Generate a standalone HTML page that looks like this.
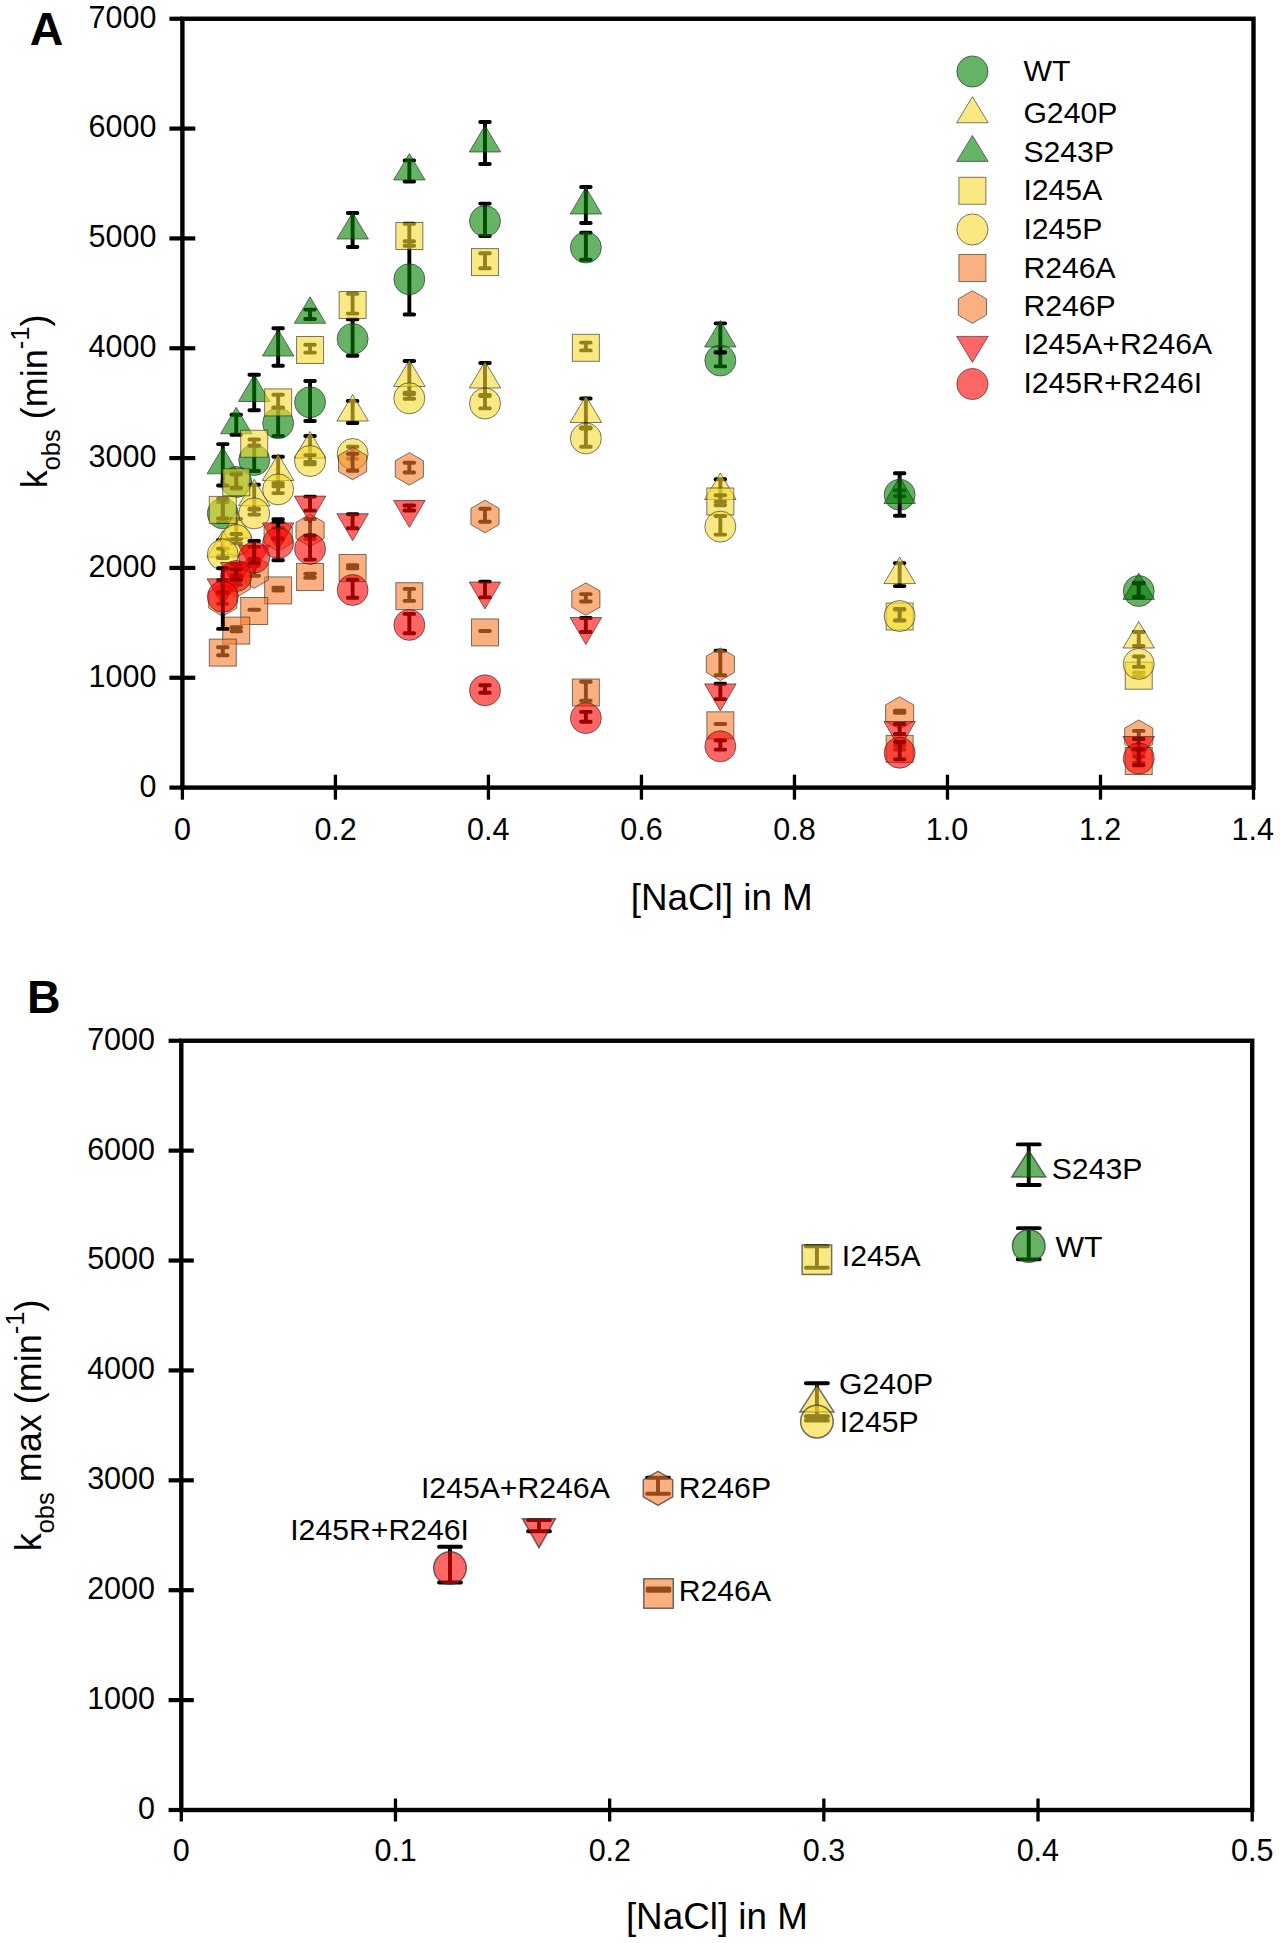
<!DOCTYPE html>
<html><head><meta charset="utf-8"><style>
html,body{margin:0;padding:0;background:#fff;}
svg{display:block;}
text{font-family:"Liberation Sans", sans-serif;}
</style></head><body>
<svg width="1280" height="1943" viewBox="0 0 1280 1943">
<rect width="1280" height="1943" fill="#fff"/>
<g font-family="Liberation Sans, sans-serif" fill="#000">
<text x="29.74" y="44.90" font-size="46.5" font-weight="bold">A</text>
<text x="26.89" y="1012.50" font-size="46.5" font-weight="bold">B</text>
<rect x="182.4" y="18.75" width="1071.10" height="768.85" fill="none" stroke="#000" stroke-width="4.4"/>
<line x1="169.40" y1="787.60" x2="182.40" y2="787.60" stroke="#000" stroke-width="4.2"/>
<text x="139.43" y="796.50" font-size="30.5">0</text>
<line x1="169.40" y1="677.76" x2="195.30" y2="677.76" stroke="#000" stroke-width="4.2"/>
<text x="88.54" y="686.66" font-size="30.5">1000</text>
<line x1="169.40" y1="567.93" x2="195.30" y2="567.93" stroke="#000" stroke-width="4.2"/>
<text x="88.54" y="576.83" font-size="30.5">2000</text>
<line x1="169.40" y1="458.09" x2="195.30" y2="458.09" stroke="#000" stroke-width="4.2"/>
<text x="88.54" y="466.99" font-size="30.5">3000</text>
<line x1="169.40" y1="348.26" x2="195.30" y2="348.26" stroke="#000" stroke-width="4.2"/>
<text x="88.54" y="357.16" font-size="30.5">4000</text>
<line x1="169.40" y1="238.42" x2="195.30" y2="238.42" stroke="#000" stroke-width="4.2"/>
<text x="88.54" y="247.32" font-size="30.5">5000</text>
<line x1="169.40" y1="128.59" x2="195.30" y2="128.59" stroke="#000" stroke-width="4.2"/>
<text x="88.54" y="137.49" font-size="30.5">6000</text>
<line x1="169.40" y1="18.75" x2="182.40" y2="18.75" stroke="#000" stroke-width="4.2"/>
<text x="88.54" y="27.65" font-size="30.5">7000</text>
<line x1="182.40" y1="787.60" x2="182.40" y2="799.70" stroke="#000" stroke-width="3.3"/>
<text x="173.92" y="839.60" font-size="30.5">0</text>
<line x1="335.41" y1="774.70" x2="335.41" y2="799.70" stroke="#000" stroke-width="3.3"/>
<text x="314.39" y="839.60" font-size="30.5">0.2</text>
<line x1="488.43" y1="774.70" x2="488.43" y2="799.70" stroke="#000" stroke-width="3.3"/>
<text x="467.08" y="839.60" font-size="30.5">0.4</text>
<line x1="641.44" y1="774.70" x2="641.44" y2="799.70" stroke="#000" stroke-width="3.3"/>
<text x="620.32" y="839.60" font-size="30.5">0.6</text>
<line x1="794.46" y1="774.70" x2="794.46" y2="799.70" stroke="#000" stroke-width="3.3"/>
<text x="773.32" y="839.60" font-size="30.5">0.8</text>
<line x1="947.47" y1="774.70" x2="947.47" y2="799.70" stroke="#000" stroke-width="3.3"/>
<text x="925.71" y="839.60" font-size="30.5">1.0</text>
<line x1="1100.49" y1="774.70" x2="1100.49" y2="799.70" stroke="#000" stroke-width="3.3"/>
<text x="1078.89" y="839.60" font-size="30.5">1.2</text>
<line x1="1253.50" y1="787.60" x2="1253.50" y2="799.70" stroke="#000" stroke-width="3.3"/>
<text x="1231.59" y="839.60" font-size="30.5">1.4</text>
<rect x="181.3" y="1040.75" width="1070.90" height="769.25" fill="none" stroke="#000" stroke-width="4.4"/>
<line x1="168.60" y1="1810.00" x2="181.30" y2="1810.00" stroke="#000" stroke-width="4.2"/>
<text x="138.03" y="1818.90" font-size="30.5">0</text>
<line x1="168.60" y1="1700.11" x2="193.80" y2="1700.11" stroke="#000" stroke-width="4.2"/>
<text x="87.14" y="1709.01" font-size="30.5">1000</text>
<line x1="168.60" y1="1590.21" x2="193.80" y2="1590.21" stroke="#000" stroke-width="4.2"/>
<text x="87.14" y="1599.11" font-size="30.5">2000</text>
<line x1="168.60" y1="1480.32" x2="193.80" y2="1480.32" stroke="#000" stroke-width="4.2"/>
<text x="87.14" y="1489.22" font-size="30.5">3000</text>
<line x1="168.60" y1="1370.43" x2="193.80" y2="1370.43" stroke="#000" stroke-width="4.2"/>
<text x="87.14" y="1379.33" font-size="30.5">4000</text>
<line x1="168.60" y1="1260.54" x2="193.80" y2="1260.54" stroke="#000" stroke-width="4.2"/>
<text x="87.14" y="1269.44" font-size="30.5">5000</text>
<line x1="168.60" y1="1150.64" x2="193.80" y2="1150.64" stroke="#000" stroke-width="4.2"/>
<text x="87.14" y="1159.54" font-size="30.5">6000</text>
<line x1="168.60" y1="1040.75" x2="181.30" y2="1040.75" stroke="#000" stroke-width="4.2"/>
<text x="87.14" y="1049.65" font-size="30.5">7000</text>
<line x1="181.30" y1="1810.00" x2="181.30" y2="1821.50" stroke="#000" stroke-width="3.3"/>
<text x="172.82" y="1861.00" font-size="30.5">0</text>
<line x1="395.48" y1="1798.50" x2="395.48" y2="1821.50" stroke="#000" stroke-width="3.3"/>
<text x="374.43" y="1861.00" font-size="30.5">0.1</text>
<line x1="609.66" y1="1798.50" x2="609.66" y2="1821.50" stroke="#000" stroke-width="3.3"/>
<text x="588.63" y="1861.00" font-size="30.5">0.2</text>
<line x1="823.84" y1="1798.50" x2="823.84" y2="1821.50" stroke="#000" stroke-width="3.3"/>
<text x="802.71" y="1861.00" font-size="30.5">0.3</text>
<line x1="1038.02" y1="1798.50" x2="1038.02" y2="1821.50" stroke="#000" stroke-width="3.3"/>
<text x="1016.67" y="1861.00" font-size="30.5">0.4</text>
<line x1="1252.20" y1="1810.00" x2="1252.20" y2="1821.50" stroke="#000" stroke-width="3.3"/>
<text x="1231.05" y="1861.00" font-size="30.5">0.5</text>
<text x="630.78" y="909.70" font-size="36.8">[NaCl] in M</text>
<text x="625.88" y="1929.40" font-size="36.8">[NaCl] in M</text>
<text transform="rotate(-90)" x="-488.33" y="46.80" font-size="36">k<tspan font-size="25.5" dy="13.1">obs</tspan><tspan dy="-13.1" xml:space="preserve"> (min</tspan><tspan font-size="25.5" dy="-18.3">-1</tspan><tspan dy="18.3">)</tspan></text>
<text transform="rotate(-90)" x="-1551.33" y="41.40" font-size="36">k<tspan font-size="25.5" dy="12.3">obs</tspan><tspan dy="-12.3" xml:space="preserve"> max (min</tspan><tspan font-size="25.5" dy="-17.6">-1</tspan><tspan dy="17.6">)</tspan></text>
</g>
<g>
<path d="M1138.74 582.70V596.70M1133.94 582.70H1143.54M1133.94 596.70H1143.54" stroke="#000" stroke-width="3.9" stroke-linecap="round" fill="none"/>
<path d="M899.65 490.40V496.20M894.85 490.40H904.45M894.85 496.20H904.45" stroke="#000" stroke-width="3.9" stroke-linecap="round" fill="none"/>
<path d="M720.34 352.00V366.40M715.54 352.00H725.14M715.54 366.40H725.14" stroke="#000" stroke-width="3.9" stroke-linecap="round" fill="none"/>
<path d="M585.86 232.70V259.70M581.06 232.70H590.66M581.06 259.70H590.66" stroke="#000" stroke-width="3.9" stroke-linecap="round" fill="none"/>
<path d="M484.99 203.60V236.00M480.19 203.60H489.79M480.19 236.00H489.79" stroke="#000" stroke-width="3.9" stroke-linecap="round" fill="none"/>
<path d="M409.34 241.30V314.50M404.54 241.30H414.14M404.54 314.50H414.14" stroke="#000" stroke-width="3.9" stroke-linecap="round" fill="none"/>
<path d="M352.61 319.40V355.80M347.81 319.40H357.41M347.81 355.80H357.41" stroke="#000" stroke-width="3.9" stroke-linecap="round" fill="none"/>
<path d="M310.06 381.00V421.00M305.26 381.00H314.86M305.26 421.00H314.86" stroke="#000" stroke-width="3.9" stroke-linecap="round" fill="none"/>
<path d="M278.14 407.90V435.90M273.34 407.90H282.94M273.34 435.90H282.94" stroke="#000" stroke-width="3.9" stroke-linecap="round" fill="none"/>
<path d="M254.21 446.00V471.00M249.41 446.00H259.01M249.41 471.00H259.01" stroke="#000" stroke-width="3.9" stroke-linecap="round" fill="none"/>
<path d="M236.25 472.70V488.70M231.45 472.70H241.05M231.45 488.70H241.05" stroke="#000" stroke-width="3.9" stroke-linecap="round" fill="none"/>
<path d="M222.79 502.10V522.10M217.99 502.10H227.59M217.99 522.10H227.59" stroke="#000" stroke-width="3.9" stroke-linecap="round" fill="none"/>
<circle cx="1138.74" cy="591.00" r="15.5" fill="#008000" fill-opacity="0.6" stroke="#222" stroke-width="1.0" stroke-opacity="0.6"/>
<circle cx="899.65" cy="494.70" r="15.5" fill="#008000" fill-opacity="0.6" stroke="#222" stroke-width="1.0" stroke-opacity="0.6"/>
<circle cx="720.34" cy="360.50" r="15.5" fill="#008000" fill-opacity="0.6" stroke="#222" stroke-width="1.0" stroke-opacity="0.6"/>
<circle cx="585.86" cy="247.50" r="15.5" fill="#008000" fill-opacity="0.6" stroke="#222" stroke-width="1.0" stroke-opacity="0.6"/>
<circle cx="484.99" cy="221.10" r="15.5" fill="#008000" fill-opacity="0.6" stroke="#222" stroke-width="1.0" stroke-opacity="0.6"/>
<circle cx="409.34" cy="279.20" r="15.5" fill="#008000" fill-opacity="0.6" stroke="#222" stroke-width="1.0" stroke-opacity="0.6"/>
<circle cx="352.61" cy="338.90" r="15.5" fill="#008000" fill-opacity="0.6" stroke="#222" stroke-width="1.0" stroke-opacity="0.6"/>
<circle cx="310.06" cy="402.30" r="15.5" fill="#008000" fill-opacity="0.6" stroke="#222" stroke-width="1.0" stroke-opacity="0.6"/>
<circle cx="278.14" cy="423.20" r="15.5" fill="#008000" fill-opacity="0.6" stroke="#222" stroke-width="1.0" stroke-opacity="0.6"/>
<circle cx="254.21" cy="460.00" r="15.5" fill="#008000" fill-opacity="0.6" stroke="#222" stroke-width="1.0" stroke-opacity="0.6"/>
<circle cx="236.25" cy="482.00" r="15.5" fill="#008000" fill-opacity="0.6" stroke="#222" stroke-width="1.0" stroke-opacity="0.6"/>
<circle cx="222.79" cy="513.40" r="15.5" fill="#008000" fill-opacity="0.6" stroke="#222" stroke-width="1.0" stroke-opacity="0.6"/>
<path d="M1138.74 632.00V646.00M1133.94 632.00H1143.54M1133.94 646.00H1143.54" stroke="#000" stroke-width="3.9" stroke-linecap="round" fill="none"/>
<path d="M899.65 563.10V586.10M894.85 563.10H904.45M894.85 586.10H904.45" stroke="#000" stroke-width="3.9" stroke-linecap="round" fill="none"/>
<path d="M720.34 479.20V501.80M715.54 479.20H725.14M715.54 501.80H725.14" stroke="#000" stroke-width="3.9" stroke-linecap="round" fill="none"/>
<path d="M585.86 398.50V428.50M581.06 398.50H590.66M581.06 428.50H590.66" stroke="#000" stroke-width="3.9" stroke-linecap="round" fill="none"/>
<path d="M484.99 363.00V395.00M480.19 363.00H489.79M480.19 395.00H489.79" stroke="#000" stroke-width="3.9" stroke-linecap="round" fill="none"/>
<path d="M409.34 361.00V394.00M404.54 361.00H414.14M404.54 394.00H414.14" stroke="#000" stroke-width="3.9" stroke-linecap="round" fill="none"/>
<path d="M352.61 401.00V423.00M347.81 401.00H357.41M347.81 423.00H357.41" stroke="#000" stroke-width="3.9" stroke-linecap="round" fill="none"/>
<path d="M310.06 436.00V462.00M305.26 436.00H314.86M305.26 462.00H314.86" stroke="#000" stroke-width="3.9" stroke-linecap="round" fill="none"/>
<path d="M278.14 456.80V486.20M273.34 456.80H282.94M273.34 486.20H282.94" stroke="#000" stroke-width="3.9" stroke-linecap="round" fill="none"/>
<path d="M254.21 484.80V508.80M249.41 484.80H259.01M249.41 508.80H259.01" stroke="#000" stroke-width="3.9" stroke-linecap="round" fill="none"/>
<path d="M236.25 519.00V539.00M231.45 519.00H241.05M231.45 539.00H241.05" stroke="#000" stroke-width="3.9" stroke-linecap="round" fill="none"/>
<path d="M222.79 540.00V556.00M217.99 540.00H227.59M217.99 556.00H227.59" stroke="#000" stroke-width="3.9" stroke-linecap="round" fill="none"/>
<path d="M1138.74 621.50L1154.49 648.00L1122.99 648.00Z" fill="#F7DA30" fill-opacity="0.6" stroke="#222" stroke-width="1.0" stroke-opacity="0.6"/>
<path d="M899.65 557.10L915.40 583.60L883.90 583.60Z" fill="#F7DA30" fill-opacity="0.6" stroke="#222" stroke-width="1.0" stroke-opacity="0.6"/>
<path d="M720.34 473.00L736.09 499.50L704.59 499.50Z" fill="#F7DA30" fill-opacity="0.6" stroke="#222" stroke-width="1.0" stroke-opacity="0.6"/>
<path d="M585.86 396.00L601.61 422.50L570.11 422.50Z" fill="#F7DA30" fill-opacity="0.6" stroke="#222" stroke-width="1.0" stroke-opacity="0.6"/>
<path d="M484.99 361.50L500.74 388.00L469.24 388.00Z" fill="#F7DA30" fill-opacity="0.6" stroke="#222" stroke-width="1.0" stroke-opacity="0.6"/>
<path d="M409.34 360.00L425.09 386.50L393.59 386.50Z" fill="#F7DA30" fill-opacity="0.6" stroke="#222" stroke-width="1.0" stroke-opacity="0.6"/>
<path d="M352.61 394.50L368.36 421.00L336.86 421.00Z" fill="#F7DA30" fill-opacity="0.6" stroke="#222" stroke-width="1.0" stroke-opacity="0.6"/>
<path d="M310.06 431.50L325.81 458.00L294.31 458.00Z" fill="#F7DA30" fill-opacity="0.6" stroke="#222" stroke-width="1.0" stroke-opacity="0.6"/>
<path d="M278.14 454.00L293.89 480.50L262.39 480.50Z" fill="#F7DA30" fill-opacity="0.6" stroke="#222" stroke-width="1.0" stroke-opacity="0.6"/>
<path d="M254.21 479.30L269.96 505.80L238.46 505.80Z" fill="#F7DA30" fill-opacity="0.6" stroke="#222" stroke-width="1.0" stroke-opacity="0.6"/>
<path d="M236.25 511.50L252.00 538.00L220.50 538.00Z" fill="#F7DA30" fill-opacity="0.6" stroke="#222" stroke-width="1.0" stroke-opacity="0.6"/>
<path d="M222.79 530.50L238.54 557.00L207.04 557.00Z" fill="#F7DA30" fill-opacity="0.6" stroke="#222" stroke-width="1.0" stroke-opacity="0.6"/>
<path d="M1138.74 583.40V597.40M1133.94 583.40H1143.54M1133.94 597.40H1143.54" stroke="#000" stroke-width="3.9" stroke-linecap="round" fill="none"/>
<path d="M899.65 473.20V515.80M894.85 473.20H904.45M894.85 515.80H904.45" stroke="#000" stroke-width="3.9" stroke-linecap="round" fill="none"/>
<path d="M720.34 323.40V352.60M715.54 323.40H725.14M715.54 352.60H725.14" stroke="#000" stroke-width="3.9" stroke-linecap="round" fill="none"/>
<path d="M585.86 187.00V223.00M581.06 187.00H590.66M581.06 223.00H590.66" stroke="#000" stroke-width="3.9" stroke-linecap="round" fill="none"/>
<path d="M484.99 122.00V164.00M480.19 122.00H489.79M480.19 164.00H489.79" stroke="#000" stroke-width="3.9" stroke-linecap="round" fill="none"/>
<path d="M409.34 160.40V181.60M404.54 160.40H414.14M404.54 181.60H414.14" stroke="#000" stroke-width="3.9" stroke-linecap="round" fill="none"/>
<path d="M352.61 213.00V247.00M347.81 213.00H357.41M347.81 247.00H357.41" stroke="#000" stroke-width="3.9" stroke-linecap="round" fill="none"/>
<path d="M310.06 309.60V319.00M305.26 309.60H314.86M305.26 319.00H314.86" stroke="#000" stroke-width="3.9" stroke-linecap="round" fill="none"/>
<path d="M278.14 328.20V365.80M273.34 328.20H282.94M273.34 365.80H282.94" stroke="#000" stroke-width="3.9" stroke-linecap="round" fill="none"/>
<path d="M254.21 374.80V410.20M249.41 374.80H259.01M249.41 410.20H259.01" stroke="#000" stroke-width="3.9" stroke-linecap="round" fill="none"/>
<path d="M236.25 414.80V434.80M231.45 414.80H241.05M231.45 434.80H241.05" stroke="#000" stroke-width="3.9" stroke-linecap="round" fill="none"/>
<path d="M222.79 444.10V485.50M217.99 444.10H227.59M217.99 485.50H227.59" stroke="#000" stroke-width="3.9" stroke-linecap="round" fill="none"/>
<path d="M1138.74 572.90L1154.49 599.40L1122.99 599.40Z" fill="#008000" fill-opacity="0.6" stroke="#222" stroke-width="1.0" stroke-opacity="0.6"/>
<path d="M899.65 477.00L915.40 503.50L883.90 503.50Z" fill="#008000" fill-opacity="0.6" stroke="#222" stroke-width="1.0" stroke-opacity="0.6"/>
<path d="M720.34 320.50L736.09 347.00L704.59 347.00Z" fill="#008000" fill-opacity="0.6" stroke="#222" stroke-width="1.0" stroke-opacity="0.6"/>
<path d="M585.86 187.50L601.61 214.00L570.11 214.00Z" fill="#008000" fill-opacity="0.6" stroke="#222" stroke-width="1.0" stroke-opacity="0.6"/>
<path d="M484.99 125.50L500.74 152.00L469.24 152.00Z" fill="#008000" fill-opacity="0.6" stroke="#222" stroke-width="1.0" stroke-opacity="0.6"/>
<path d="M409.34 153.50L425.09 180.00L393.59 180.00Z" fill="#008000" fill-opacity="0.6" stroke="#222" stroke-width="1.0" stroke-opacity="0.6"/>
<path d="M352.61 212.50L368.36 239.00L336.86 239.00Z" fill="#008000" fill-opacity="0.6" stroke="#222" stroke-width="1.0" stroke-opacity="0.6"/>
<path d="M310.06 296.80L325.81 323.30L294.31 323.30Z" fill="#008000" fill-opacity="0.6" stroke="#222" stroke-width="1.0" stroke-opacity="0.6"/>
<path d="M278.14 329.50L293.89 356.00L262.39 356.00Z" fill="#008000" fill-opacity="0.6" stroke="#222" stroke-width="1.0" stroke-opacity="0.6"/>
<path d="M254.21 375.00L269.96 401.50L238.46 401.50Z" fill="#008000" fill-opacity="0.6" stroke="#222" stroke-width="1.0" stroke-opacity="0.6"/>
<path d="M236.25 407.30L252.00 433.80L220.50 433.80Z" fill="#008000" fill-opacity="0.6" stroke="#222" stroke-width="1.0" stroke-opacity="0.6"/>
<path d="M222.79 447.30L238.54 473.80L207.04 473.80Z" fill="#008000" fill-opacity="0.6" stroke="#222" stroke-width="1.0" stroke-opacity="0.6"/>
<path d="M1138.74 672.40V676.40M1133.94 672.40H1143.54M1133.94 676.40H1143.54" stroke="#000" stroke-width="3.9" stroke-linecap="round" fill="none"/>
<path d="M899.65 610.20V620.20M894.85 610.20H904.45M894.85 620.20H904.45" stroke="#000" stroke-width="3.9" stroke-linecap="round" fill="none"/>
<path d="M720.34 495.20V505.20M715.54 495.20H725.14M715.54 505.20H725.14" stroke="#000" stroke-width="3.9" stroke-linecap="round" fill="none"/>
<path d="M585.86 342.60V350.40M581.06 342.60H590.66M581.06 350.40H590.66" stroke="#000" stroke-width="3.9" stroke-linecap="round" fill="none"/>
<path d="M484.99 253.30V268.30M480.19 253.30H489.79M480.19 268.30H489.79" stroke="#000" stroke-width="3.9" stroke-linecap="round" fill="none"/>
<path d="M409.34 223.70V245.70M404.54 223.70H414.14M404.54 245.70H414.14" stroke="#000" stroke-width="3.9" stroke-linecap="round" fill="none"/>
<path d="M352.61 293.80V313.60M347.81 293.80H357.41M347.81 313.60H357.41" stroke="#000" stroke-width="3.9" stroke-linecap="round" fill="none"/>
<path d="M310.06 344.80V352.60M305.26 344.80H314.86M305.26 352.60H314.86" stroke="#000" stroke-width="3.9" stroke-linecap="round" fill="none"/>
<path d="M278.14 394.70V407.50M273.34 394.70H282.94M273.34 407.50H282.94" stroke="#000" stroke-width="3.9" stroke-linecap="round" fill="none"/>
<path d="M254.21 439.45V445.45M249.41 439.45H259.01M249.41 445.45H259.01" stroke="#000" stroke-width="3.9" stroke-linecap="round" fill="none"/>
<path d="M236.25 474.40V487.60M231.45 474.40H241.05M231.45 487.60H241.05" stroke="#000" stroke-width="3.9" stroke-linecap="round" fill="none"/>
<path d="M222.79 498.80V518.40M217.99 498.80H227.59M217.99 518.40H227.59" stroke="#000" stroke-width="3.9" stroke-linecap="round" fill="none"/>
<rect x="1125.24" y="662.20" width="27.0" height="27.0" fill="#F7DA30" fill-opacity="0.6" stroke="#222" stroke-width="1.0" stroke-opacity="0.6"/>
<rect x="886.15" y="603.00" width="27.0" height="27.0" fill="#F7DA30" fill-opacity="0.6" stroke="#222" stroke-width="1.0" stroke-opacity="0.6"/>
<rect x="706.84" y="488.00" width="27.0" height="27.0" fill="#F7DA30" fill-opacity="0.6" stroke="#222" stroke-width="1.0" stroke-opacity="0.6"/>
<rect x="572.36" y="334.30" width="27.0" height="27.0" fill="#F7DA30" fill-opacity="0.6" stroke="#222" stroke-width="1.0" stroke-opacity="0.6"/>
<rect x="471.49" y="248.60" width="27.0" height="27.0" fill="#F7DA30" fill-opacity="0.6" stroke="#222" stroke-width="1.0" stroke-opacity="0.6"/>
<rect x="395.84" y="222.50" width="27.0" height="27.0" fill="#F7DA30" fill-opacity="0.6" stroke="#222" stroke-width="1.0" stroke-opacity="0.6"/>
<rect x="339.11" y="291.50" width="27.0" height="27.0" fill="#F7DA30" fill-opacity="0.6" stroke="#222" stroke-width="1.0" stroke-opacity="0.6"/>
<rect x="296.56" y="336.50" width="27.0" height="27.0" fill="#F7DA30" fill-opacity="0.6" stroke="#222" stroke-width="1.0" stroke-opacity="0.6"/>
<rect x="264.64" y="388.90" width="27.0" height="27.0" fill="#F7DA30" fill-opacity="0.6" stroke="#222" stroke-width="1.0" stroke-opacity="0.6"/>
<rect x="240.71" y="430.25" width="27.0" height="27.0" fill="#F7DA30" fill-opacity="0.6" stroke="#222" stroke-width="1.0" stroke-opacity="0.6"/>
<rect x="222.75" y="468.80" width="27.0" height="27.0" fill="#F7DA30" fill-opacity="0.6" stroke="#222" stroke-width="1.0" stroke-opacity="0.6"/>
<rect x="209.29" y="496.40" width="27.0" height="27.0" fill="#F7DA30" fill-opacity="0.6" stroke="#222" stroke-width="1.0" stroke-opacity="0.6"/>
<path d="M1138.74 656.50V666.90M1133.94 656.50H1143.54M1133.94 666.90H1143.54" stroke="#000" stroke-width="3.9" stroke-linecap="round" fill="none"/>
<path d="M899.65 608.90V620.50M894.85 608.90H904.45M894.85 620.50H904.45" stroke="#000" stroke-width="3.9" stroke-linecap="round" fill="none"/>
<path d="M720.34 516.00V534.60M715.54 516.00H725.14M715.54 534.60H725.14" stroke="#000" stroke-width="3.9" stroke-linecap="round" fill="none"/>
<path d="M585.86 427.50V446.70M581.06 427.50H590.66M581.06 446.70H590.66" stroke="#000" stroke-width="3.9" stroke-linecap="round" fill="none"/>
<path d="M484.99 396.00V408.40M480.19 396.00H489.79M480.19 408.40H489.79" stroke="#000" stroke-width="3.9" stroke-linecap="round" fill="none"/>
<path d="M409.34 392.70V398.70M404.54 392.70H414.14M404.54 398.70H414.14" stroke="#000" stroke-width="3.9" stroke-linecap="round" fill="none"/>
<path d="M352.61 446.70V458.70M347.81 446.70H357.41M347.81 458.70H357.41" stroke="#000" stroke-width="3.9" stroke-linecap="round" fill="none"/>
<path d="M310.06 455.10V464.30M305.26 455.10H314.86M305.26 464.30H314.86" stroke="#000" stroke-width="3.9" stroke-linecap="round" fill="none"/>
<path d="M278.14 483.10V493.10M273.34 483.10H282.94M273.34 493.10H282.94" stroke="#000" stroke-width="3.9" stroke-linecap="round" fill="none"/>
<path d="M254.21 509.60V514.60M249.41 509.60H259.01M249.41 514.60H259.01" stroke="#000" stroke-width="3.9" stroke-linecap="round" fill="none"/>
<path d="M236.25 534.00V543.40M231.45 534.00H241.05M231.45 543.40H241.05" stroke="#000" stroke-width="3.9" stroke-linecap="round" fill="none"/>
<path d="M222.79 548.60V558.00M217.99 548.60H227.59M217.99 558.00H227.59" stroke="#000" stroke-width="3.9" stroke-linecap="round" fill="none"/>
<circle cx="1138.74" cy="663.90" r="15.5" fill="#F7DA30" fill-opacity="0.6" stroke="#222" stroke-width="1.0" stroke-opacity="0.6"/>
<circle cx="899.65" cy="616.00" r="15.5" fill="#F7DA30" fill-opacity="0.6" stroke="#222" stroke-width="1.0" stroke-opacity="0.6"/>
<circle cx="720.34" cy="526.60" r="15.5" fill="#F7DA30" fill-opacity="0.6" stroke="#222" stroke-width="1.0" stroke-opacity="0.6"/>
<circle cx="585.86" cy="438.40" r="15.5" fill="#F7DA30" fill-opacity="0.6" stroke="#222" stroke-width="1.0" stroke-opacity="0.6"/>
<circle cx="484.99" cy="403.50" r="15.5" fill="#F7DA30" fill-opacity="0.6" stroke="#222" stroke-width="1.0" stroke-opacity="0.6"/>
<circle cx="409.34" cy="398.30" r="15.5" fill="#F7DA30" fill-opacity="0.6" stroke="#222" stroke-width="1.0" stroke-opacity="0.6"/>
<circle cx="352.61" cy="454.00" r="15.5" fill="#F7DA30" fill-opacity="0.6" stroke="#222" stroke-width="1.0" stroke-opacity="0.6"/>
<circle cx="310.06" cy="461.00" r="15.5" fill="#F7DA30" fill-opacity="0.6" stroke="#222" stroke-width="1.0" stroke-opacity="0.6"/>
<circle cx="278.14" cy="489.40" r="15.5" fill="#F7DA30" fill-opacity="0.6" stroke="#222" stroke-width="1.0" stroke-opacity="0.6"/>
<circle cx="254.21" cy="513.40" r="15.5" fill="#F7DA30" fill-opacity="0.6" stroke="#222" stroke-width="1.0" stroke-opacity="0.6"/>
<circle cx="236.25" cy="540.00" r="15.5" fill="#F7DA30" fill-opacity="0.6" stroke="#222" stroke-width="1.0" stroke-opacity="0.6"/>
<circle cx="222.79" cy="554.60" r="15.5" fill="#F7DA30" fill-opacity="0.6" stroke="#222" stroke-width="1.0" stroke-opacity="0.6"/>
<path d="M1138.74 756.70V762.70M1133.94 756.70H1143.54M1133.94 762.70H1143.54" stroke="#000" stroke-width="3.9" stroke-linecap="round" fill="none"/>
<path d="M899.65 745.60V749.60M894.85 745.60H904.45M894.85 749.60H904.45" stroke="#000" stroke-width="3.9" stroke-linecap="round" fill="none"/>
<line x1="715.54" y1="724.00" x2="725.14" y2="724.00" stroke="#000" stroke-width="4" stroke-linecap="round"/>
<path d="M585.86 681.70V700.70M581.06 681.70H590.66M581.06 700.70H590.66" stroke="#000" stroke-width="3.9" stroke-linecap="round" fill="none"/>
<line x1="480.19" y1="631.10" x2="489.79" y2="631.10" stroke="#000" stroke-width="4" stroke-linecap="round"/>
<path d="M409.34 588.90V600.90M404.54 588.90H414.14M404.54 600.90H414.14" stroke="#000" stroke-width="3.9" stroke-linecap="round" fill="none"/>
<path d="M352.61 565.20V568.20M347.81 565.20H357.41M347.81 568.20H357.41" stroke="#000" stroke-width="3.9" stroke-linecap="round" fill="none"/>
<path d="M310.06 573.70V577.70M305.26 573.70H314.86M305.26 577.70H314.86" stroke="#000" stroke-width="3.9" stroke-linecap="round" fill="none"/>
<path d="M278.14 587.60V590.60M273.34 587.60H282.94M273.34 590.60H282.94" stroke="#000" stroke-width="3.9" stroke-linecap="round" fill="none"/>
<line x1="249.41" y1="609.70" x2="259.01" y2="609.70" stroke="#000" stroke-width="4" stroke-linecap="round"/>
<path d="M236.25 627.30V631.30M231.45 627.30H241.05M231.45 631.30H241.05" stroke="#000" stroke-width="3.9" stroke-linecap="round" fill="none"/>
<path d="M222.79 647.30V655.30M217.99 647.30H227.59M217.99 655.30H227.59" stroke="#000" stroke-width="3.9" stroke-linecap="round" fill="none"/>
<rect x="1125.24" y="747.50" width="27.0" height="27.0" fill="#F77B2B" fill-opacity="0.6" stroke="#222" stroke-width="1.0" stroke-opacity="0.6"/>
<rect x="886.15" y="735.40" width="27.0" height="27.0" fill="#F77B2B" fill-opacity="0.6" stroke="#222" stroke-width="1.0" stroke-opacity="0.6"/>
<rect x="706.84" y="711.80" width="27.0" height="27.0" fill="#F77B2B" fill-opacity="0.6" stroke="#222" stroke-width="1.0" stroke-opacity="0.6"/>
<rect x="572.36" y="679.00" width="27.0" height="27.0" fill="#F77B2B" fill-opacity="0.6" stroke="#222" stroke-width="1.0" stroke-opacity="0.6"/>
<rect x="471.49" y="618.90" width="27.0" height="27.0" fill="#F77B2B" fill-opacity="0.6" stroke="#222" stroke-width="1.0" stroke-opacity="0.6"/>
<rect x="395.84" y="582.70" width="27.0" height="27.0" fill="#F77B2B" fill-opacity="0.6" stroke="#222" stroke-width="1.0" stroke-opacity="0.6"/>
<rect x="339.11" y="554.50" width="27.0" height="27.0" fill="#F77B2B" fill-opacity="0.6" stroke="#222" stroke-width="1.0" stroke-opacity="0.6"/>
<rect x="296.56" y="563.50" width="27.0" height="27.0" fill="#F77B2B" fill-opacity="0.6" stroke="#222" stroke-width="1.0" stroke-opacity="0.6"/>
<rect x="264.64" y="576.90" width="27.0" height="27.0" fill="#F77B2B" fill-opacity="0.6" stroke="#222" stroke-width="1.0" stroke-opacity="0.6"/>
<rect x="240.71" y="597.50" width="27.0" height="27.0" fill="#F77B2B" fill-opacity="0.6" stroke="#222" stroke-width="1.0" stroke-opacity="0.6"/>
<rect x="222.75" y="617.10" width="27.0" height="27.0" fill="#F77B2B" fill-opacity="0.6" stroke="#222" stroke-width="1.0" stroke-opacity="0.6"/>
<rect x="209.29" y="639.10" width="27.0" height="27.0" fill="#F77B2B" fill-opacity="0.6" stroke="#222" stroke-width="1.0" stroke-opacity="0.6"/>
<path d="M1138.74 730.90V738.90M1133.94 730.90H1143.54M1133.94 738.90H1143.54" stroke="#000" stroke-width="3.9" stroke-linecap="round" fill="none"/>
<path d="M899.65 710.70V712.70M894.85 710.70H904.45M894.85 712.70H904.45" stroke="#000" stroke-width="3.9" stroke-linecap="round" fill="none"/>
<path d="M720.34 650.80V675.20M715.54 650.80H725.14M715.54 675.20H725.14" stroke="#000" stroke-width="3.9" stroke-linecap="round" fill="none"/>
<path d="M585.86 594.10V601.50M581.06 594.10H590.66M581.06 601.50H590.66" stroke="#000" stroke-width="3.9" stroke-linecap="round" fill="none"/>
<path d="M484.99 508.70V521.70M480.19 508.70H489.79M480.19 521.70H489.79" stroke="#000" stroke-width="3.9" stroke-linecap="round" fill="none"/>
<path d="M409.34 462.70V472.50M404.54 462.70H414.14M404.54 472.50H414.14" stroke="#000" stroke-width="3.9" stroke-linecap="round" fill="none"/>
<path d="M352.61 453.70V470.70M347.81 453.70H357.41M347.81 470.70H357.41" stroke="#000" stroke-width="3.9" stroke-linecap="round" fill="none"/>
<path d="M310.06 519.10V539.10M305.26 519.10H314.86M305.26 539.10H314.86" stroke="#000" stroke-width="3.9" stroke-linecap="round" fill="none"/>
<path d="M278.14 527.70V539.70M273.34 527.70H282.94M273.34 539.70H282.94" stroke="#000" stroke-width="3.9" stroke-linecap="round" fill="none"/>
<path d="M254.21 565.70V575.70M249.41 565.70H259.01M249.41 575.70H259.01" stroke="#000" stroke-width="3.9" stroke-linecap="round" fill="none"/>
<path d="M236.25 574.70V584.70M231.45 574.70H241.05M231.45 584.70H241.05" stroke="#000" stroke-width="3.9" stroke-linecap="round" fill="none"/>
<path d="M222.79 593.70V603.70M217.99 593.70H227.59M217.99 603.70H227.59" stroke="#000" stroke-width="3.9" stroke-linecap="round" fill="none"/>
<path d="M1138.74 719.95L1152.81 728.08L1152.81 744.33L1138.74 752.45L1124.67 744.33L1124.67 728.08Z" fill="#F77B2B" fill-opacity="0.6" stroke="#222" stroke-width="1.0" stroke-opacity="0.6"/>
<path d="M899.65 696.75L913.73 704.88L913.73 721.12L899.65 729.25L885.58 721.12L885.58 704.88Z" fill="#F77B2B" fill-opacity="0.6" stroke="#222" stroke-width="1.0" stroke-opacity="0.6"/>
<path d="M720.34 648.05L734.41 656.17L734.41 672.42L720.34 680.55L706.27 672.42L706.27 656.17Z" fill="#F77B2B" fill-opacity="0.6" stroke="#222" stroke-width="1.0" stroke-opacity="0.6"/>
<path d="M585.86 582.85L599.93 590.98L599.93 607.23L585.86 615.35L571.78 607.23L571.78 590.98Z" fill="#F77B2B" fill-opacity="0.6" stroke="#222" stroke-width="1.0" stroke-opacity="0.6"/>
<path d="M484.99 500.25L499.06 508.38L499.06 524.62L484.99 532.75L470.92 524.62L470.92 508.38Z" fill="#F77B2B" fill-opacity="0.6" stroke="#222" stroke-width="1.0" stroke-opacity="0.6"/>
<path d="M409.34 452.65L423.42 460.77L423.42 477.02L409.34 485.15L395.27 477.02L395.27 460.77Z" fill="#F77B2B" fill-opacity="0.6" stroke="#222" stroke-width="1.0" stroke-opacity="0.6"/>
<path d="M352.61 447.25L366.68 455.38L366.68 471.62L352.61 479.75L338.53 471.62L338.53 455.38Z" fill="#F77B2B" fill-opacity="0.6" stroke="#222" stroke-width="1.0" stroke-opacity="0.6"/>
<path d="M310.06 514.15L324.13 522.27L324.13 538.52L310.06 546.65L295.98 538.52L295.98 522.27Z" fill="#F77B2B" fill-opacity="0.6" stroke="#222" stroke-width="1.0" stroke-opacity="0.6"/>
<path d="M278.14 518.75L292.21 526.88L292.21 543.12L278.14 551.25L264.07 543.12L264.07 526.88Z" fill="#F77B2B" fill-opacity="0.6" stroke="#222" stroke-width="1.0" stroke-opacity="0.6"/>
<path d="M254.21 555.75L268.28 563.88L268.28 580.12L254.21 588.25L240.13 580.12L240.13 563.88Z" fill="#F77B2B" fill-opacity="0.6" stroke="#222" stroke-width="1.0" stroke-opacity="0.6"/>
<path d="M236.25 564.75L250.33 572.88L250.33 589.12L236.25 597.25L222.18 589.12L222.18 572.88Z" fill="#F77B2B" fill-opacity="0.6" stroke="#222" stroke-width="1.0" stroke-opacity="0.6"/>
<path d="M222.79 583.75L236.86 591.88L236.86 608.12L222.79 616.25L208.72 608.12L208.72 591.88Z" fill="#F77B2B" fill-opacity="0.6" stroke="#222" stroke-width="1.0" stroke-opacity="0.6"/>
<path d="M1138.74 739.00V749.00M1133.94 739.00H1143.54M1133.94 749.00H1143.54" stroke="#000" stroke-width="3.9" stroke-linecap="round" fill="none"/>
<path d="M899.65 724.00V734.00M894.85 724.00H904.45M894.85 734.00H904.45" stroke="#000" stroke-width="3.9" stroke-linecap="round" fill="none"/>
<path d="M720.34 683.70V699.10M715.54 683.70H725.14M715.54 699.10H725.14" stroke="#000" stroke-width="3.9" stroke-linecap="round" fill="none"/>
<path d="M585.86 618.00V632.00M581.06 618.00H590.66M581.06 632.00H590.66" stroke="#000" stroke-width="3.9" stroke-linecap="round" fill="none"/>
<path d="M484.99 581.60V597.40M480.19 581.60H489.79M480.19 597.40H489.79" stroke="#000" stroke-width="3.9" stroke-linecap="round" fill="none"/>
<path d="M409.34 505.50V510.50M404.54 505.50H414.14M404.54 510.50H414.14" stroke="#000" stroke-width="3.9" stroke-linecap="round" fill="none"/>
<path d="M352.61 514.20V528.20M347.81 514.20H357.41M347.81 528.20H357.41" stroke="#000" stroke-width="3.9" stroke-linecap="round" fill="none"/>
<path d="M310.06 496.60V510.60M305.26 496.60H314.86M305.26 510.60H314.86" stroke="#000" stroke-width="3.9" stroke-linecap="round" fill="none"/>
<path d="M278.14 522.40V538.40M273.34 522.40H282.94M273.34 538.40H282.94" stroke="#000" stroke-width="3.9" stroke-linecap="round" fill="none"/>
<path d="M254.21 546.90V558.90M249.41 546.90H259.01M249.41 558.90H259.01" stroke="#000" stroke-width="3.9" stroke-linecap="round" fill="none"/>
<path d="M236.25 564.00V576.00M231.45 564.00H241.05M231.45 576.00H241.05" stroke="#000" stroke-width="3.9" stroke-linecap="round" fill="none"/>
<path d="M222.79 580.30V592.30M217.99 580.30H227.59M217.99 592.30H227.59" stroke="#000" stroke-width="3.9" stroke-linecap="round" fill="none"/>
<path d="M1122.99 736.50L1154.49 736.50L1138.74 763.50Z" fill="#FF0000" fill-opacity="0.6" stroke="#222" stroke-width="1.0" stroke-opacity="0.6"/>
<path d="M883.90 721.50L915.40 721.50L899.65 748.50Z" fill="#FF0000" fill-opacity="0.6" stroke="#222" stroke-width="1.0" stroke-opacity="0.6"/>
<path d="M704.59 683.90L736.09 683.90L720.34 710.90Z" fill="#FF0000" fill-opacity="0.6" stroke="#222" stroke-width="1.0" stroke-opacity="0.6"/>
<path d="M570.11 617.50L601.61 617.50L585.86 644.50Z" fill="#FF0000" fill-opacity="0.6" stroke="#222" stroke-width="1.0" stroke-opacity="0.6"/>
<path d="M469.24 582.00L500.74 582.00L484.99 609.00Z" fill="#FF0000" fill-opacity="0.6" stroke="#222" stroke-width="1.0" stroke-opacity="0.6"/>
<path d="M393.59 500.50L425.09 500.50L409.34 527.50Z" fill="#FF0000" fill-opacity="0.6" stroke="#222" stroke-width="1.0" stroke-opacity="0.6"/>
<path d="M336.86 513.70L368.36 513.70L352.61 540.70Z" fill="#FF0000" fill-opacity="0.6" stroke="#222" stroke-width="1.0" stroke-opacity="0.6"/>
<path d="M294.31 496.10L325.81 496.10L310.06 523.10Z" fill="#FF0000" fill-opacity="0.6" stroke="#222" stroke-width="1.0" stroke-opacity="0.6"/>
<path d="M262.39 522.90L293.89 522.90L278.14 549.90Z" fill="#FF0000" fill-opacity="0.6" stroke="#222" stroke-width="1.0" stroke-opacity="0.6"/>
<path d="M238.46 545.40L269.96 545.40L254.21 572.40Z" fill="#FF0000" fill-opacity="0.6" stroke="#222" stroke-width="1.0" stroke-opacity="0.6"/>
<path d="M220.50 562.50L252.00 562.50L236.25 589.50Z" fill="#FF0000" fill-opacity="0.6" stroke="#222" stroke-width="1.0" stroke-opacity="0.6"/>
<path d="M207.04 578.80L238.54 578.80L222.79 605.80Z" fill="#FF0000" fill-opacity="0.6" stroke="#222" stroke-width="1.0" stroke-opacity="0.6"/>
<path d="M1138.74 749.20V765.20M1133.94 749.20H1143.54M1133.94 765.20H1143.54" stroke="#000" stroke-width="3.9" stroke-linecap="round" fill="none"/>
<path d="M899.65 742.00V759.40M894.85 742.00H904.45M894.85 759.40H904.45" stroke="#000" stroke-width="3.9" stroke-linecap="round" fill="none"/>
<path d="M720.34 740.40V749.60M715.54 740.40H725.14M715.54 749.60H725.14" stroke="#000" stroke-width="3.9" stroke-linecap="round" fill="none"/>
<path d="M585.86 711.90V721.70M581.06 711.90H590.66M581.06 721.70H590.66" stroke="#000" stroke-width="3.9" stroke-linecap="round" fill="none"/>
<path d="M484.99 685.30V692.70M480.19 685.30H489.79M480.19 692.70H489.79" stroke="#000" stroke-width="3.9" stroke-linecap="round" fill="none"/>
<path d="M409.34 613.90V633.30M404.54 613.90H414.14M404.54 633.30H414.14" stroke="#000" stroke-width="3.9" stroke-linecap="round" fill="none"/>
<path d="M352.61 579.70V597.70M347.81 579.70H357.41M347.81 597.70H357.41" stroke="#000" stroke-width="3.9" stroke-linecap="round" fill="none"/>
<path d="M310.06 535.60V559.60M305.26 535.60H314.86M305.26 559.60H314.86" stroke="#000" stroke-width="3.9" stroke-linecap="round" fill="none"/>
<path d="M278.14 519.30V560.30M273.34 519.30H282.94M273.34 560.30H282.94" stroke="#000" stroke-width="3.9" stroke-linecap="round" fill="none"/>
<path d="M254.21 541.00V563.00M249.41 541.00H259.01M249.41 563.00H259.01" stroke="#000" stroke-width="3.9" stroke-linecap="round" fill="none"/>
<path d="M236.25 569.40V580.00M231.45 569.40H241.05M231.45 580.00H241.05" stroke="#000" stroke-width="3.9" stroke-linecap="round" fill="none"/>
<path d="M222.79 568.30V628.90M217.99 568.30H227.59M217.99 628.90H227.59" stroke="#000" stroke-width="3.9" stroke-linecap="round" fill="none"/>
<circle cx="1138.74" cy="758.50" r="15.5" fill="#FF0000" fill-opacity="0.6" stroke="#222" stroke-width="1.0" stroke-opacity="0.6"/>
<circle cx="899.65" cy="752.70" r="15.5" fill="#FF0000" fill-opacity="0.6" stroke="#222" stroke-width="1.0" stroke-opacity="0.6"/>
<circle cx="720.34" cy="746.30" r="15.5" fill="#FF0000" fill-opacity="0.6" stroke="#222" stroke-width="1.0" stroke-opacity="0.6"/>
<circle cx="585.86" cy="718.10" r="15.5" fill="#FF0000" fill-opacity="0.6" stroke="#222" stroke-width="1.0" stroke-opacity="0.6"/>
<circle cx="484.99" cy="690.30" r="15.5" fill="#FF0000" fill-opacity="0.6" stroke="#222" stroke-width="1.0" stroke-opacity="0.6"/>
<circle cx="409.34" cy="624.90" r="15.5" fill="#FF0000" fill-opacity="0.6" stroke="#222" stroke-width="1.0" stroke-opacity="0.6"/>
<circle cx="352.61" cy="590.00" r="15.5" fill="#FF0000" fill-opacity="0.6" stroke="#222" stroke-width="1.0" stroke-opacity="0.6"/>
<circle cx="310.06" cy="548.90" r="15.5" fill="#FF0000" fill-opacity="0.6" stroke="#222" stroke-width="1.0" stroke-opacity="0.6"/>
<circle cx="278.14" cy="543.00" r="15.5" fill="#FF0000" fill-opacity="0.6" stroke="#222" stroke-width="1.0" stroke-opacity="0.6"/>
<circle cx="254.21" cy="557.60" r="15.5" fill="#FF0000" fill-opacity="0.6" stroke="#222" stroke-width="1.0" stroke-opacity="0.6"/>
<circle cx="236.25" cy="576.00" r="15.5" fill="#FF0000" fill-opacity="0.6" stroke="#222" stroke-width="1.0" stroke-opacity="0.6"/>
<circle cx="222.79" cy="596.80" r="15.5" fill="#FF0000" fill-opacity="0.6" stroke="#222" stroke-width="1.0" stroke-opacity="0.6"/>
</g>
<circle cx="972.40" cy="71.50" r="15.6" fill="#008000" fill-opacity="0.6" stroke="#222" stroke-width="1.0" stroke-opacity="0.6"/>
<text x="1023.4" y="80.75" font-family="Liberation Sans, sans-serif" font-size="30.2">WT</text>
<path d="M972.40 96.75L988.15 122.75L956.65 122.75Z" fill="#F7DA30" fill-opacity="0.6" stroke="#222" stroke-width="1.0" stroke-opacity="0.6"/>
<text x="1023.4" y="123.0" font-family="Liberation Sans, sans-serif" font-size="30.2">G240P</text>
<path d="M972.40 135.40L988.15 161.40L956.65 161.40Z" fill="#008000" fill-opacity="0.6" stroke="#222" stroke-width="1.0" stroke-opacity="0.6"/>
<text x="1023.4" y="162.0" font-family="Liberation Sans, sans-serif" font-size="30.2">S243P</text>
<rect x="958.90" y="177.25" width="27.0" height="27.0" fill="#F7DA30" fill-opacity="0.6" stroke="#222" stroke-width="1.0" stroke-opacity="0.6"/>
<text x="1023.4" y="200.0" font-family="Liberation Sans, sans-serif" font-size="30.2">I245A</text>
<circle cx="972.40" cy="229.50" r="15.6" fill="#F7DA30" fill-opacity="0.6" stroke="#222" stroke-width="1.0" stroke-opacity="0.6"/>
<text x="1023.4" y="239.25" font-family="Liberation Sans, sans-serif" font-size="30.2">I245P</text>
<rect x="958.90" y="254.50" width="27.0" height="27.0" fill="#F77B2B" fill-opacity="0.6" stroke="#222" stroke-width="1.0" stroke-opacity="0.6"/>
<text x="1023.4" y="277.5" font-family="Liberation Sans, sans-serif" font-size="30.2">R246A</text>
<path d="M972.40 290.75L986.47 298.88L986.47 315.12L972.40 323.25L958.33 315.12L958.33 298.88Z" fill="#F77B2B" fill-opacity="0.6" stroke="#222" stroke-width="1.0" stroke-opacity="0.6"/>
<text x="1023.4" y="315.75" font-family="Liberation Sans, sans-serif" font-size="30.2">R246P</text>
<path d="M956.65 336.40L988.15 336.40L972.40 362.40Z" fill="#FF0000" fill-opacity="0.6" stroke="#222" stroke-width="1.0" stroke-opacity="0.6"/>
<text x="1023.4" y="353.75" font-family="Liberation Sans, sans-serif" font-size="30.2">I245A+R246A</text>
<circle cx="972.40" cy="384.00" r="15.6" fill="#FF0000" fill-opacity="0.6" stroke="#222" stroke-width="1.0" stroke-opacity="0.6"/>
<text x="1023.4" y="393.0" font-family="Liberation Sans, sans-serif" font-size="30.2">I245R+R246I</text>
<path d="M1028.75 1228.15V1259.35M1017.75 1228.15H1039.75M1017.75 1259.35H1039.75" stroke="#000" stroke-width="3.9" stroke-linecap="round" fill="none"/>
<circle cx="1028.75" cy="1246.00" r="16.3" fill="#008000" fill-opacity="0.6" stroke="#333" stroke-width="1.5" stroke-opacity="0.7"/>
<path d="M816.90 1383.20V1416.20M805.90 1383.20H827.90M805.90 1416.20H827.90" stroke="#000" stroke-width="3.9" stroke-linecap="round" fill="none"/>
<path d="M816.90 1385.40L833.90 1411.90L799.90 1411.90Z" fill="#F7DA30" fill-opacity="0.6" stroke="#333" stroke-width="1.5" stroke-opacity="0.7"/>
<path d="M1028.75 1144.40V1185.00M1017.75 1144.40H1039.75M1017.75 1185.00H1039.75" stroke="#000" stroke-width="3.9" stroke-linecap="round" fill="none"/>
<path d="M1028.75 1150.40L1045.75 1176.90L1011.75 1176.90Z" fill="#008000" fill-opacity="0.6" stroke="#333" stroke-width="1.5" stroke-opacity="0.7"/>
<path d="M816.90 1246.30V1267.70M805.90 1246.30H827.90M805.90 1267.70H827.90" stroke="#000" stroke-width="3.9" stroke-linecap="round" fill="none"/>
<rect x="802.15" y="1244.95" width="29.5" height="29.5" fill="#F7DA30" fill-opacity="0.6" stroke="#333" stroke-width="1.5" stroke-opacity="0.7"/>
<path d="M816.90 1416.50V1420.50M805.90 1416.50H827.90M805.90 1420.50H827.90" stroke="#000" stroke-width="3.9" stroke-linecap="round" fill="none"/>
<circle cx="816.90" cy="1421.60" r="16.3" fill="#F7DA30" fill-opacity="0.6" stroke="#333" stroke-width="1.5" stroke-opacity="0.7"/>
<path d="M658.50 1588.40V1590.80M647.50 1588.40H669.50M647.50 1590.80H669.50" stroke="#000" stroke-width="3.9" stroke-linecap="round" fill="none"/>
<rect x="643.75" y="1578.75" width="29.5" height="29.5" fill="#F77B2B" fill-opacity="0.6" stroke="#333" stroke-width="1.5" stroke-opacity="0.7"/>
<path d="M658.00 1477.70V1493.70M647.00 1477.70H669.00M647.00 1493.70H669.00" stroke="#000" stroke-width="3.9" stroke-linecap="round" fill="none"/>
<path d="M658.00 1471.40L672.72 1479.90L672.72 1496.90L658.00 1505.40L643.28 1496.90L643.28 1479.90Z" fill="#F77B2B" fill-opacity="0.6" stroke="#333" stroke-width="1.5" stroke-opacity="0.7"/>
<path d="M539.00 1520.10V1531.30M528.00 1520.10H550.00M528.00 1531.30H550.00" stroke="#000" stroke-width="3.9" stroke-linecap="round" fill="none"/>
<path d="M522.50 1518.70L555.50 1518.70L539.00 1547.70Z" fill="#FF0000" fill-opacity="0.6" stroke="#333" stroke-width="1.5" stroke-opacity="0.7"/>
<path d="M450.00 1546.70V1582.50M439.00 1546.70H461.00M439.00 1582.50H461.00" stroke="#000" stroke-width="3.9" stroke-linecap="round" fill="none"/>
<circle cx="450.00" cy="1568.00" r="16.3" fill="#FF0000" fill-opacity="0.6" stroke="#333" stroke-width="1.5" stroke-opacity="0.7"/>
<text x="1055.47" y="1257.30" font-size="30.2" font-family="Liberation Sans, sans-serif">WT</text>
<text x="839.08" y="1394.10" font-size="30.2" font-family="Liberation Sans, sans-serif">G240P</text>
<text x="1051.73" y="1178.50" font-size="30.2" font-family="Liberation Sans, sans-serif">S243P</text>
<text x="841.81" y="1266.25" font-size="30.2" font-family="Liberation Sans, sans-serif">I245A</text>
<text x="839.71" y="1432.30" font-size="30.2" font-family="Liberation Sans, sans-serif">I245P</text>
<text x="678.72" y="1600.60" font-size="30.2" font-family="Liberation Sans, sans-serif">R246A</text>
<text x="678.72" y="1497.80" font-size="30.2" font-family="Liberation Sans, sans-serif">R246P</text>
<text x="420.96" y="1498.00" font-size="30.2" font-family="Liberation Sans, sans-serif">I245A+R246A</text>
<text x="290.21" y="1540.00" font-size="30.2" font-family="Liberation Sans, sans-serif">I245R+R246I</text>
</svg>
</body></html>
